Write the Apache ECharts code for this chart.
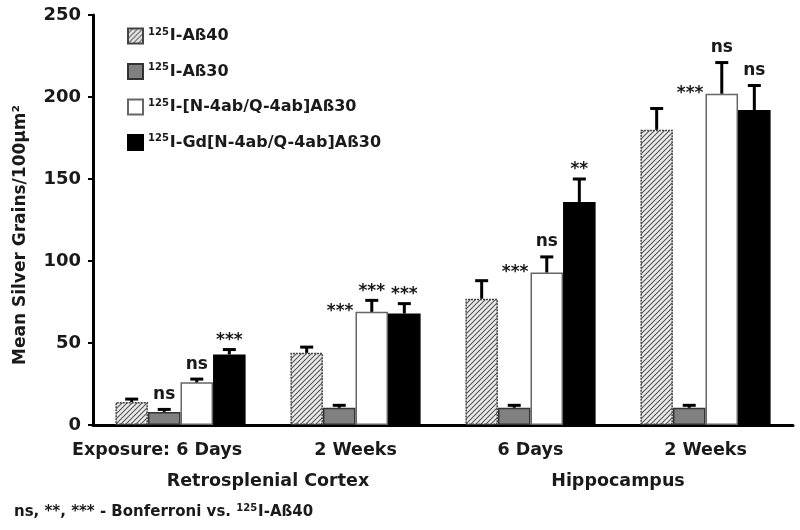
<!DOCTYPE html>
<html>
<head>
<meta charset="utf-8">
<script src="https://cdn.jsdelivr.net/npm/echarts@6/dist/echarts.min.js"></script>
<style>
html,body{margin:0;padding:0;background:#fff;}
#chart{width:800px;height:530px;}
</style>
</head>
<body>
<div id="chart"></div>
<script>
// ---- data ----
const categories = ['Exposure: 6 Days', '2 Weeks', '6 Days', '2 Weeks'];
const regions = ['Retrosplenial Cortex', 'Hippocampus'];
const seriesNames = ['I-Aß40', 'I-Aß30', 'I-[N-4ab/Q-4ab]Aß30', 'I-Gd[N-4ab/Q-4ab]Aß30'];
const isotope = '125';
const yTicks = [0, 50, 100, 150, 200, 250];

const abeta40 = [14, 44, 77, 180];
const abeta40Err = [1.8, 3.5, 11, 13];
const abeta30 = [8, 10.5, 10.5, 10.5];
const abeta30Err = [1.5, 1.5, 1.5, 1.5];
const mutant = [26, 69, 93, 202];
const mutantErr = [2, 7, 9.5, 19];
const gdMutant = [43, 68, 136, 192];
const gdMutantErr = [3, 6, 14, 15];

// significance marks
const abeta30Notes = ['ns', '', '', ''];
const mutantSideNotes = ['', '***', '***', '***'];
const mutantNotes = ['ns', '***', 'ns', 'ns'];
const gdMutantNotes = ['***', '***', '**', 'ns'];

const footnote = 'ns, **, *** - Bonferroni vs. ';

// ---- styling ----
const FONT = '"DejaVu Sans", "Liberation Sans", Arial, sans-serif';
const BAR_RATIO = 0.186;
const TXT = '#1a1a1a';

function hatch() {
  const c = document.createElement('canvas');
  c.width = 5; c.height = 5;
  const g = c.getContext('2d');
  g.fillStyle = '#ececec';
  g.fillRect(0, 0, 5, 5);
  g.strokeStyle = '#555';
  g.lineWidth = 1.1;
  g.beginPath();
  g.moveTo(0, 5); g.lineTo(5, 0);
  g.moveTo(-1, 1); g.lineTo(1, -1);
  g.moveTo(4, 6); g.lineTo(6, 4);
  g.stroke();
  return c;
}

const barStyles = [
  { color: { image: hatch(), repeat: 'repeat' }, borderColor: '#444', borderWidth: 1.5, borderType: [2, 1] },
  { color: '#808080', borderColor: '#333', borderWidth: 1.5 },
  { color: '#ffffff', borderColor: '#666', borderWidth: 1.5 },
  { color: '#000000', borderColor: '#000', borderWidth: 1.5 }
];

const values = [abeta40, abeta30, mutant, gdMutant];
const errs = [abeta40Err, abeta30Err, mutantErr, gdMutantErr];
const notes = [null, abeta30Notes, mutantNotes, gdMutantNotes];
const sideNotes = [null, null, mutantSideNotes, null];

const series = [];
values.forEach((vals, si) => {
  series.push({
    name: seriesNames[si],
    type: 'bar',
    barWidth: (BAR_RATIO * 100) + '%',
    barGap: '0%',
    itemStyle: barStyles[si],
    data: vals,
    z: 2
  });
});
values.forEach((vals, si) => {
  series.push({
    type: 'custom',
    name: seriesNames[si] + ' err',
    z: 5,
    silent: true,
    data: vals.map((v, i) => [i, v, errs[si][i]]),
    renderItem: function (params, api) {
      const ci = api.value(0), v = api.value(1), e = api.value(2);
      const base = api.coord([ci, v]);
      const top = api.coord([ci, v + e]);
      const band = api.size([1, 0])[0];
      const bw = band * BAR_RATIO;
      const x = base[0] + (si - 1.5) * bw;
      const children = [
        { type: 'line', shape: { x1: x, y1: base[1], x2: x, y2: top[1] }, style: { stroke: '#000', lineWidth: 3 } },
        { type: 'line', shape: { x1: x - 6.5, y1: top[1], x2: x + 6.5, y2: top[1] }, style: { stroke: '#000', lineWidth: 3 } }
      ];
      const n = notes[si] ? notes[si][params.dataIndex] : '';
      if (n) {
        const star = n.charAt(0) === '*';
        children.push({
          type: 'text', x: x, y: top[1] - (star ? 9 : 15),
          style: { text: n, fill: TXT, font: 'bold 17px ' + FONT, textAlign: 'center', textVerticalAlign: 'middle' }
        });
      }
      const sn = sideNotes[si] ? sideNotes[si][params.dataIndex] : '';
      if (sn) {
        children.push({
          type: 'text', x: x - bw / 2 - 2, y: base[1],
          style: { text: sn, fill: TXT, font: 'bold 17px ' + FONT, textAlign: 'right', textVerticalAlign: 'middle' }
        });
      }
      return { type: 'group', children: children };
    }
  });
});

const catData = categories.map((c, i) => i === 0
  ? { value: c, textStyle: { padding: [0, 47, 0, 0] } }
  : c);

const chart = echarts.init(document.getElementById('chart'), null, { renderer: 'canvas' });
chart.setOption({
  animation: false,
  backgroundColor: '#fff',
  grid: { left: 93, right: 7, top: 15, bottom: 105, containLabel: false },
  legend: {
    orient: 'vertical',
    left: 122,
    top: 22,
    itemWidth: 15,
    itemHeight: 15,
    itemGap: 18,
    icon: 'rect',
    data: seriesNames,
    formatter: function (name) { return '{sup|' + isotope + '}{b|' + name + '}'; },
    textStyle: {
      rich: {
        sup: { fontSize: 10, fontWeight: 'bold', fontFamily: FONT, color: TXT, verticalAlign: 'top', lineHeight: 10, padding: [0, 1, 0, 0] },
        b: { fontSize: 16, fontWeight: 'bold', fontFamily: FONT, color: TXT, lineHeight: 18 }
      }
    }
  },
  xAxis: [
    {
      type: 'category',
      data: catData,
      axisLine: { lineStyle: { color: '#000', width: 3 } },
      axisTick: { show: false },
      axisLabel: { interval: 0, margin: 16, color: TXT, fontSize: 17.5, fontWeight: 'bold', fontFamily: FONT },
      splitLine: { show: false }
    },
    {
      type: 'category',
      data: regions,
      position: 'bottom',
      offset: 31,
      axisLine: { show: false },
      axisTick: { show: false },
      axisLabel: { interval: 0, margin: 16, color: TXT, fontSize: 17.5, fontWeight: 'bold', fontFamily: FONT },
      splitLine: { show: false }
    }
  ],
  yAxis: {
    type: 'value',
    min: yTicks[0],
    max: yTicks[yTicks.length - 1],
    interval: yTicks[1] - yTicks[0],
    name: 'Mean Silver Grains/100µm²',
    nameLocation: 'middle',
    nameGap: 64,
    nameTextStyle: { color: TXT, fontSize: 17, fontWeight: 'bold', fontFamily: FONT, padding: [0, 30, 0, 0] },
    axisLine: { show: true, lineStyle: { color: '#000', width: 3 } },
    axisTick: { show: true, inside: false, length: 5, lineStyle: { color: '#000', width: 2 } },
    axisLabel: { margin: 12, color: TXT, fontSize: 18, fontWeight: 'bold', fontFamily: FONT },
    splitLine: { show: false }
  },
  graphic: [
    {
      type: 'text',
      left: 14,
      top: 503,
      style: {
        text: footnote + '{sup|' + isotope + '}{b|' + seriesNames[0] + '}',
        font: 'bold 15px ' + FONT,
        fill: TXT,
        rich: {
          sup: { fontSize: 10, fontWeight: 'bold', fontFamily: FONT, fill: TXT, verticalAlign: 'top', lineHeight: 10, padding: [0, 1, 0, 0] },
          b: { fontSize: 15, fontWeight: 'bold', fontFamily: FONT, fill: TXT, lineHeight: 18 }
        }
      }
    }
  ],
  series: series
});
</script>
</body>
</html>
